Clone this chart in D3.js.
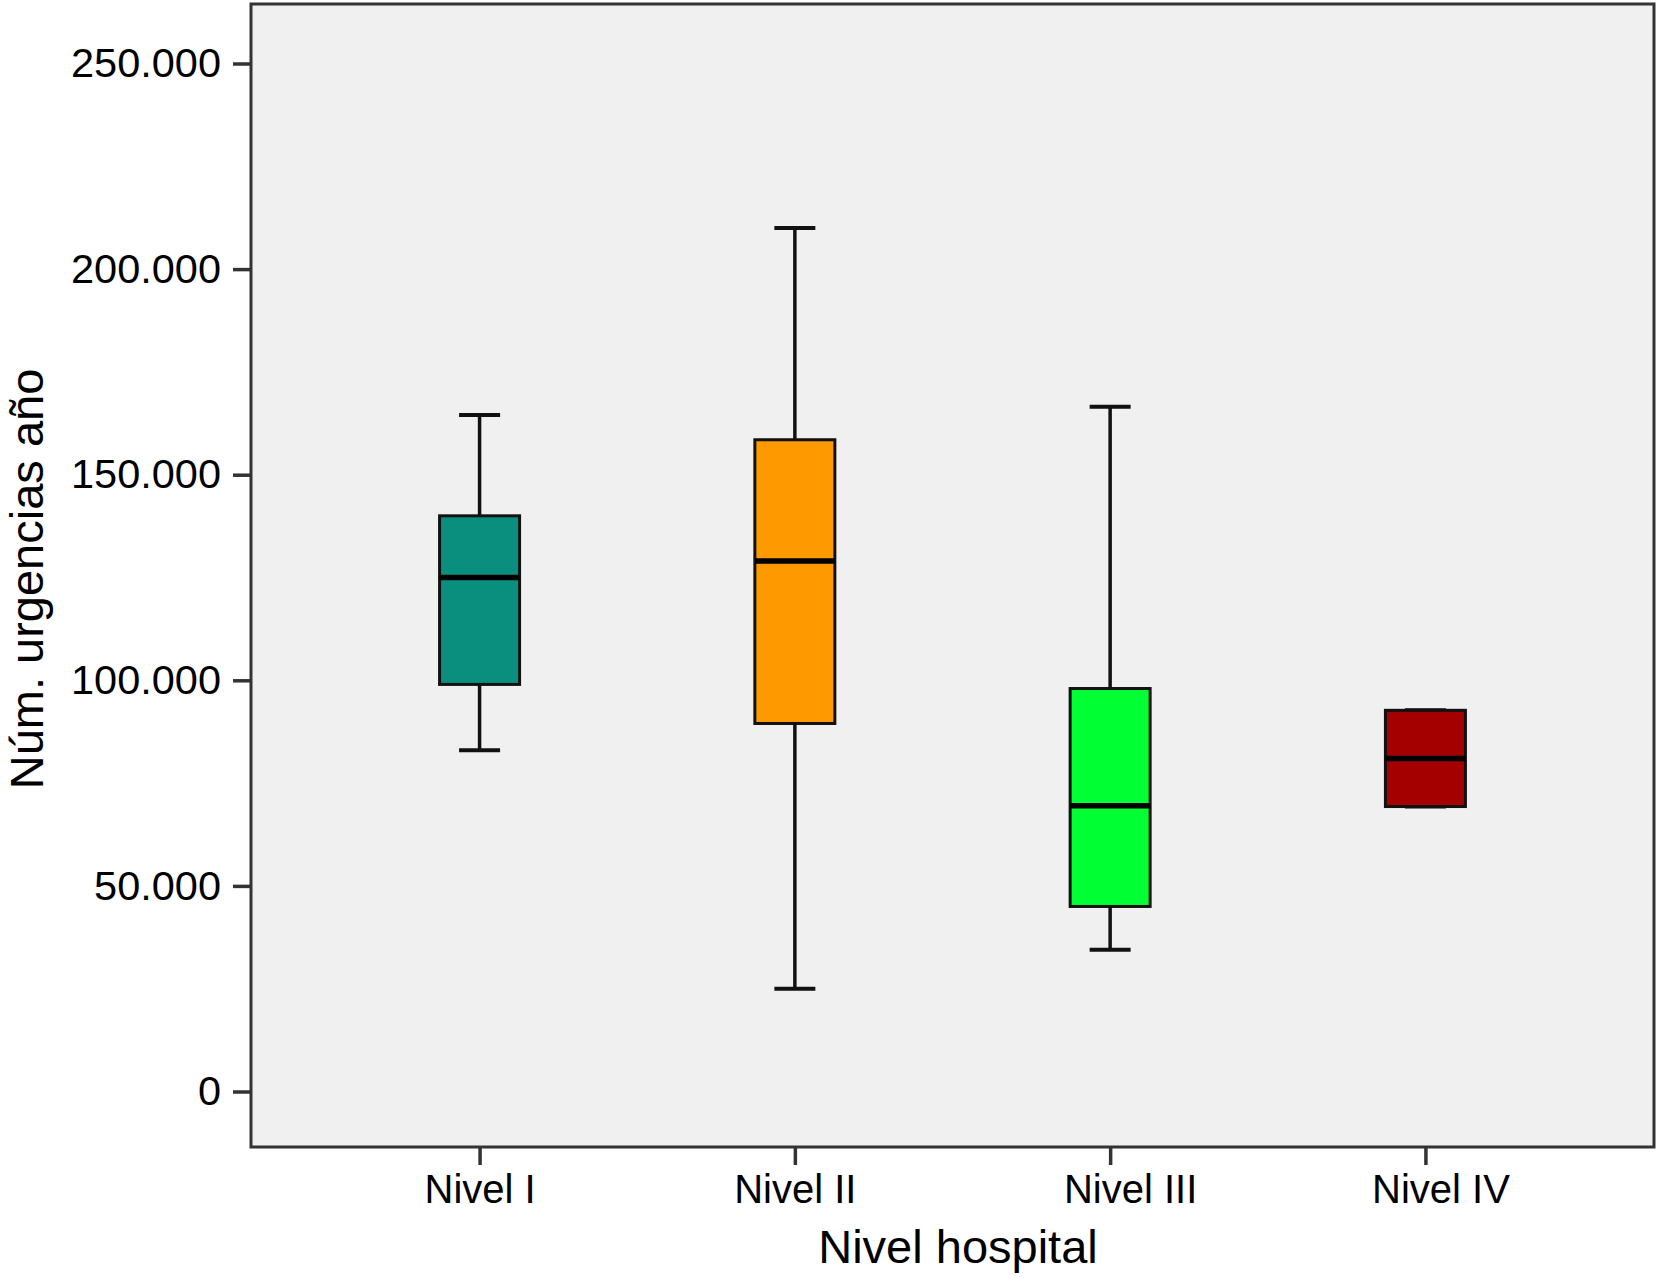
<!DOCTYPE html>
<html>
<head>
<meta charset="utf-8">
<script src="https://cdnjs.cloudflare.com/ajax/libs/d3/7.8.5/d3.min.js"></script>
<style>
  body { margin: 0; background: #ffffff; }
  text { font-family: "Liberation Sans", Arial, sans-serif; fill: #000; }
</style>
</head>
<body>
<div id="grafico"></div>
<script>
// ----- DATOS
var niveles = ["Nivel I", "Nivel II", "Nivel III", "Nivel IV"];
var minimos = [83000, 25000, 34500, 69300];
var cuartil1 = [99000, 89500, 45000, 69300];
var medianas = [125000, 129000, 69500, 81000];
var cuartil3 = [140000, 158500, 98000, 92700];
var maximos = [164500, 210000, 166500, 92700];
var colores = ["#0a8f7f", "#ff9900", "#00ff33", "#a50000"];
var ticksY = [0, 50000, 100000, 150000, 200000, 250000];

var width = 1660;
var height = 1278;

// marco del area de dibujo (no usar "top", choca con window.top)
var mLeft = 251, mRight = 1654, mTop = 4, mBottom = 1147;

// pequeño desplazamiento de las etiquetas del eje x como en el original
var despEtiqueta = { "Nivel III": 20, "Nivel IV": 15 };

var svg = d3.select("#grafico")
    .append("svg")
    .attr("width", width)
    .attr("height", height);

var x = d3.scalePoint()
    .domain(niveles)
    .range([mLeft, mRight])
    .padding(0.725);

var y = d3.scaleLinear()
    .domain([0, 250000])
    .range([1091.5, 63.5]);

// fondo gris
svg.append("rect")
    .attr("x", mLeft)
    .attr("y", mTop)
    .attr("width", mRight - mLeft)
    .attr("height", mBottom - mTop)
    .attr("fill", "#f0f0f0")
    .attr("stroke", "#333")
    .attr("stroke-width", 3);

// eje y
var ejeY = svg.append("g")
    .attr("transform", "translate(" + mLeft + ",0)")
    .call(d3.axisLeft(y)
        .tickValues(ticksY)
        .tickSize(18)
        .tickPadding(12)
        .tickFormat(function (d) { return d === 0 ? "0" : d3.format(",")(d).replace(/,/g, "."); }));
ejeY.select(".domain").remove();
ejeY.selectAll("line").attr("stroke", "#333").attr("stroke-width", 3.5);
ejeY.selectAll("text")
    .attr("font-size", "41.5px")
    .attr("font-family", "Liberation Sans, Arial, sans-serif")
    .attr("fill", "#000");

// eje x
var ejeX = svg.append("g")
    .attr("transform", "translate(0," + mBottom + ")")
    .call(d3.axisBottom(x).tickSize(18).tickPadding(10));
ejeX.select(".domain").remove();
ejeX.selectAll("line").attr("stroke", "#333").attr("stroke-width", 3.5);
ejeX.selectAll("text")
    .attr("font-size", "40px")
    .attr("font-family", "Liberation Sans, Arial, sans-serif")
    .attr("fill", "#000")
    .attr("dx", function (d) { return despEtiqueta[d] || 0; });

// cajas
var bWidth = 80;  // ancho de la caja
var cWidth = 41;  // ancho del bigote

var cajas = svg.selectAll("g.caja")
    .data(niveles)
    .enter()
    .append("g")
    .attr("class", "caja");

// linea vertical del bigote
cajas.append("line")
    .attr("x1", function (d) { return x(d); })
    .attr("x2", function (d) { return x(d); })
    .attr("y1", function (d, i) { return y(maximos[i]); })
    .attr("y2", function (d, i) { return y(minimos[i]); })
    .attr("stroke", "#111")
    .attr("stroke-width", 3.5);

// extremos
cajas.append("line")
    .attr("x1", function (d) { return x(d) - cWidth / 2; })
    .attr("x2", function (d) { return x(d) + cWidth / 2; })
    .attr("y1", function (d, i) { return y(maximos[i]); })
    .attr("y2", function (d, i) { return y(maximos[i]); })
    .attr("stroke", "#111")
    .attr("stroke-width", 4);

cajas.append("line")
    .attr("x1", function (d) { return x(d) - cWidth / 2; })
    .attr("x2", function (d) { return x(d) + cWidth / 2; })
    .attr("y1", function (d, i) { return y(minimos[i]); })
    .attr("y2", function (d, i) { return y(minimos[i]); })
    .attr("stroke", "#111")
    .attr("stroke-width", 4);

cajas.append("rect")
    .attr("x", function (d) { return x(d) - bWidth / 2; })
    .attr("y", function (d, i) { return y(cuartil3[i]); })
    .attr("width", bWidth)
    .attr("height", function (d, i) { return y(cuartil1[i]) - y(cuartil3[i]); })
    .attr("fill", function (d, i) { return colores[i]; })
    .attr("stroke", "#111")
    .attr("stroke-width", 3);

// mediana
cajas.append("line")
    .attr("x1", function (d) { return x(d) - bWidth / 2; })
    .attr("x2", function (d) { return x(d) + bWidth / 2; })
    .attr("y1", function (d, i) { return y(medianas[i]); })
    .attr("y2", function (d, i) { return y(medianas[i]); })
    .attr("stroke", "#000")
    .attr("stroke-width", 5.5);

// titulos de los ejes
svg.append("text")
    .attr("x", 958)
    .attr("y", 1263)
    .attr("text-anchor", "middle")
    .attr("font-size", "47px")
    .text("Nivel hospital");

svg.append("text")
    .attr("transform", "translate(43,579) rotate(-90)")
    .attr("text-anchor", "middle")
    .attr("font-size", "47px")
    .text("Núm. urgencias año");
</script>
</body>
</html>
